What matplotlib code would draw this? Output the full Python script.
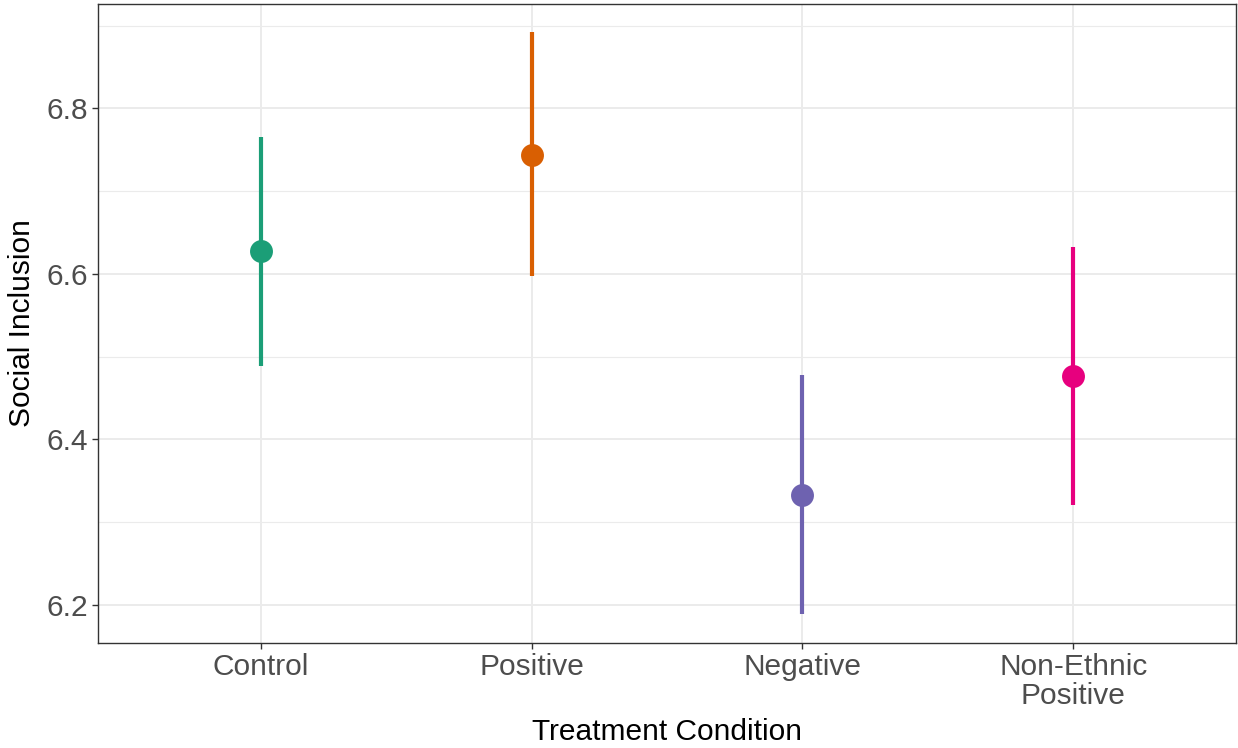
import matplotlib
matplotlib.use('Agg')
import matplotlib.pyplot as plt
from matplotlib.ticker import MultipleLocator

plt.rcParams['font.family'] = ['Liberation Sans', 'DejaVu Sans']

conditions = ['Control', 'Positive', 'Negative', 'Non-Ethnic\nPositive']
means = [6.627, 6.744, 6.333, 6.477]
lower = [6.489, 6.597, 6.189, 6.321]
upper = [6.765, 6.892, 6.478, 6.633]
colors = ['#1B9E77', '#D95F02', '#6E62B0', '#E7007E']

fig = plt.figure(figsize=(12.38, 7.48), dpi=100)
ax = fig.add_axes([98 / 1238, 105 / 748, 1138 / 1238, 639 / 748])

x = list(range(1, len(conditions) + 1))
for xi, m, lo, hi, c in zip(x, means, lower, upper, colors):
    ax.vlines(xi, lo, hi, color=c, lw=3.0, zorder=3)
    ax.plot(xi, m, 'o', color=c, ms=16.5, mec='none', zorder=4)

ax.set_xlim(0.4, 4.6)
ax.set_ylim(6.154, 6.926)
ax.set_xticks(x)
ax.set_xticklabels(conditions, linespacing=1.05)
ax.yaxis.set_major_locator(MultipleLocator(0.2))
ax.yaxis.set_minor_locator(MultipleLocator(0.1))
ax.yaxis.set_major_formatter(matplotlib.ticker.FormatStrFormatter('%.1f'))

# ggplot theme_bw look
ax.grid(True, which='major', color='#EBEBEB', lw=1.4, zorder=0)
ax.grid(True, which='minor', axis='y', color='#EBEBEB', lw=0.8, zorder=0)
ax.set_axisbelow(True)
for s in ax.spines.values():
    s.set_color('#333333')
    s.set_linewidth(1.0)
ax.tick_params(which='major', length=4, width=1.0, color='#333333',
               labelsize=21.5, labelcolor='#4D4D4D', pad=3)
ax.tick_params(which='minor', length=0)

ax.set_xlabel('Treatment Condition', fontsize=21.5, labelpad=6)
ax.set_ylabel('Social Inclusion', fontsize=21.5, labelpad=8)

fig.savefig('out.png', dpi=100)
